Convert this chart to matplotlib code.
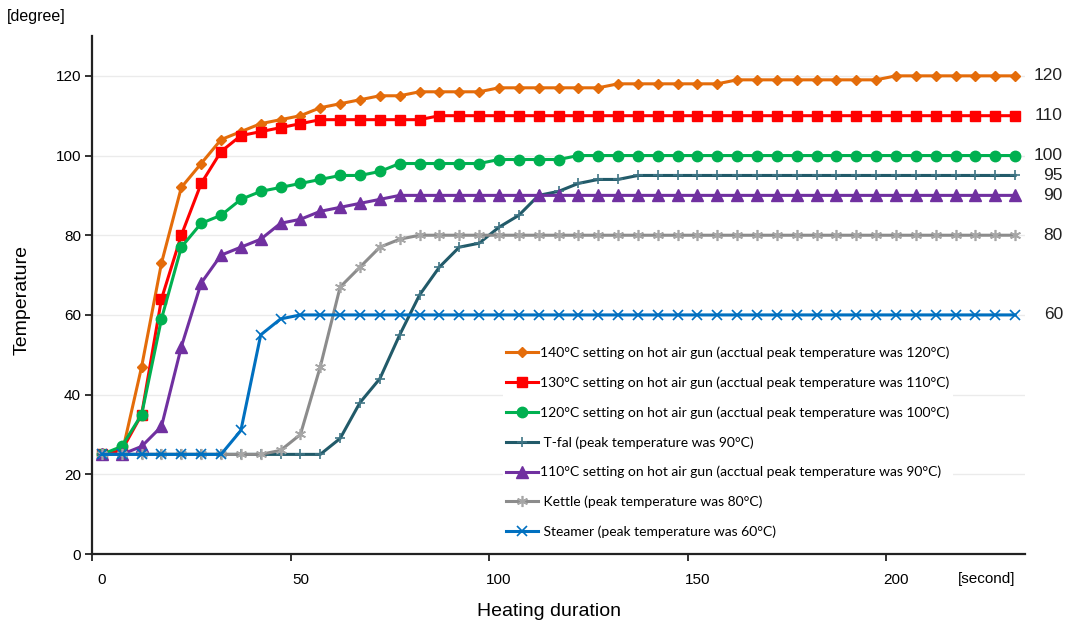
import matplotlib
matplotlib.use('Agg')
import matplotlib.pyplot as plt

plt.rcParams['font.family'] = ['Liberation Sans', 'DejaVu Sans']

# heating time (s), one sample every 5 s
seconds = [0, 5, 10, 15, 20, 25, 30, 35, 40, 45, 50, 55, 60, 65, 70, 75, 80, 85, 90, 95,
           100, 105, 110, 115, 120, 125, 130, 135, 140, 145, 150, 155, 160, 165, 170, 175,
           180, 185, 190, 195, 200, 205, 210, 215, 220, 225, 230]

gun_140 = [25, 25, 47, 73, 92, 98, 104, 106, 108, 109,
           110, 112, 113, 114, 115, 115, 116, 116, 116, 116,
           117, 117, 117, 117, 117, 117, 118, 118, 118, 118,
           118, 118, 119, 119, 119, 119, 119, 119, 119, 119,
           120, 120, 120, 120, 120, 120, 120]
gun_130 = [25, 26, 35, 64, 80, 93, 101, 105, 106, 107,
           108, 109, 109, 109, 109, 109, 109, 110, 110, 110,
           110, 110, 110, 110, 110, 110, 110, 110, 110, 110,
           110, 110, 110, 110, 110, 110, 110, 110, 110, 110,
           110, 110, 110, 110, 110, 110, 110]
gun_120 = [25, 27, 35, 59, 77, 83, 85, 89, 91, 92,
           93, 94, 95, 95, 96, 98, 98, 98, 98, 98,
           99, 99, 99, 99, 100, 100, 100, 100, 100, 100,
           100, 100, 100, 100, 100, 100, 100, 100, 100, 100,
           100, 100, 100, 100, 100, 100, 100]
tfal = [25, 25, 25, 25, 25, 25, 25, 25, 25, 25,
        25, 25, 29, 38, 44, 55, 65, 72, 77, 78,
        82, 85, 90, 91, 93, 94, 94, 95, 95, 95,
        95, 95, 95, 95, 95, 95, 95, 95, 95, 95,
        95, 95, 95, 95, 95, 95, 95]
gun_110 = [25, 25, 27, 32, 52, 68, 75, 77, 79, 83,
           84, 86, 87, 88, 89, 90, 90, 90, 90, 90,
           90, 90, 90, 90, 90, 90, 90, 90, 90, 90,
           90, 90, 90, 90, 90, 90, 90, 90, 90, 90,
           90, 90, 90, 90, 90, 90, 90]
kettle = [25, 25, 25, 25, 25, 25, 25, 25, 25, 26,
          30, 47, 67, 72, 77, 79, 80, 80, 80, 80,
          80, 80, 80, 80, 80, 80, 80, 80, 80, 80,
          80, 80, 80, 80, 80, 80, 80, 80, 80, 80,
          80, 80, 80, 80, 80, 80, 80]
steamer = [25, 25, 25, 25, 25, 25, 25, 31, 55, 59,
           60, 60, 60, 60, 60, 60, 60, 60, 60, 60,
           60, 60, 60, 60, 60, 60, 60, 60, 60, 60,
           60, 60, 60, 60, 60, 60, 60, 60, 60, 60,
           60, 60, 60, 60, 60, 60, 60]

labels = ['140°C setting on hot air gun (acctual peak temperature was 120°C)',
          '130°C setting on hot air gun (acctual peak temperature was 110°C)',
          '120°C setting on hot air gun (acctual peak temperature was 100°C)',
          ' T-fal (peak temperature was 90°C)',
          '110°C setting on hot air gun (acctual peak temperature was 90°C)',
          ' Kettle (peak temperature was 80°C)',
          ' Steamer (peak temperature was 60°C)']
series = [gun_140, gun_130, gun_120, tfal, gun_110, kettle, steamer]

# line colour, marker, marker size, marker colour, marker edge width
styles = [('#E46C0A', 'D', 5.2, '#E46C0A', 1.0),
          ('#FF0000', 's', 7.5, '#FF0000', 1.0),
          ('#00B050', 'o', 7.5, '#00B050', 1.0),
          ('#215A69', '+', 7.0, '#3F7585', 1.2),
          ('#7030A0', '^', 8.0, '#7030A0', 1.0),
          ('#8C8C8C', (6, 2, 0), 8.0, '#A6A6A6', 1.2),
          ('#0070C0', 'x', 7.0, '#0070C0', 1.2)]

fig = plt.figure(figsize=(10.74, 6.31), dpi=100)
ax = fig.add_axes([92 / 1074, 77 / 631, 933 / 1074, 518 / 631])

handles = []
for i, (vals, lab, st) in enumerate(zip(series, labels, styles)):
    col, mk, ms, mcol, mew = st
    h, = ax.plot(seconds, vals, color=col, lw=2.2, marker=mk, ms=ms,
                 mfc=mcol, mec=mcol, mew=mew, label=lab, zorder=3 + i)
    handles.append(h)
    # value label at the end of each curve
    ax.annotate(str(vals[-1]), xy=(seconds[-1], vals[-1]), xytext=(34.5, 0),
                textcoords='offset points', ha='right', va='center',
                fontsize=12.5, color='#222222')

ax.set_xlim(-2.5, 232.5)
ax.set_ylim(0, 130)
ax.set_yticks([0, 20, 40, 60, 80, 100, 120])
ax.set_xticks([0, 50, 100, 150, 200])
ax.set_xticks([-2.5, 47.5, 97.5, 147.5, 197.5], minor=True)
ax.tick_params(axis='y', direction='out', length=5, width=1.3, labelsize=11,
               color='#222222', pad=3)
ax.tick_params(axis='x', which='major', length=0, labelsize=11, pad=14)
ax.tick_params(axis='x', which='minor', direction='out', length=5, width=1.3,
               color='#222222')

for s in ['top', 'right']:
    ax.spines[s].set_visible(False)
for s in ['left', 'bottom']:
    ax.spines[s].set_color('#222222')
    ax.spines[s].set_linewidth(1.6)

ax.yaxis.grid(True, color='#EBEBEB', lw=1)
ax.set_axisbelow(True)

leg = ax.legend(handles=handles, loc='upper left',
                bbox_to_anchor=(503 / 1074, 1 - 344 / 631),
                bbox_transform=fig.transFigure,
                prop={'family': 'Lato', 'size': 10}, frameon=True,
                facecolor='white', edgecolor='none', framealpha=1,
                handlelength=2.3, handletextpad=0.2, labelspacing=1.24,
                borderpad=0.2, borderaxespad=0)
leg.set_zorder(20)

fig.text(958 / 1074, 1 - 579 / 631, '[second]', ha='left', va='center', fontsize=11)
fig.text(549 / 1074, 1 - 612 / 631, 'Heating duration', ha='center', va='center',
         fontsize=14)
fig.text(22 / 1074, 1 - 300 / 631, 'Temperature', ha='center', va='center',
         rotation=90, fontsize=14)
fig.text(7 / 1074, 1 - 17 / 631, '[degree]', ha='left', va='center', fontsize=11.5)

fig.savefig('out.png', dpi=100, facecolor='white')
